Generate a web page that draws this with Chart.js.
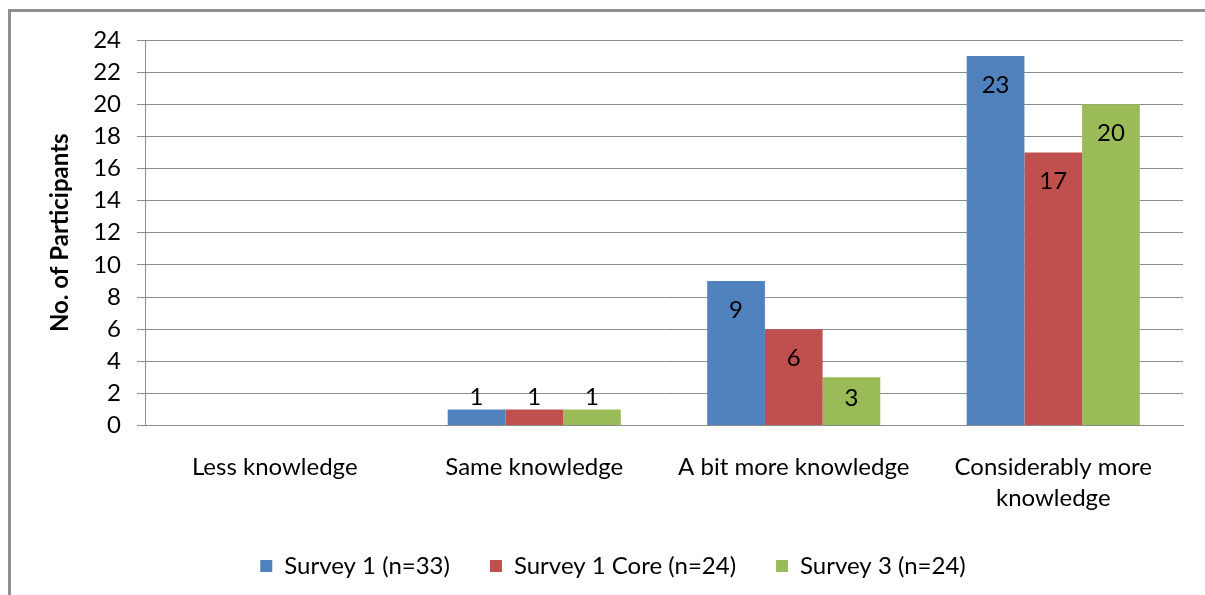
<!DOCTYPE html>
<html>
<head>
<meta charset="utf-8">
<script src="https://cdn.jsdelivr.net/npm/chart.js@4.4.0/dist/chart.umd.min.js"></script>
<style>
body { margin: 0; background: #fff; }
#wrap { position: relative; width: 1205px; height: 595px; overflow: hidden; }
#frame { position: absolute; left: 8px; top: 9px; width: 1300px; height: 700px;
         border-left: 3px solid #8e8e8e; border-top: 3px solid #8e8e8e; }
canvas { position: absolute; left: 0; top: 0; }
</style>
</head>
<body>
<div id="wrap">
  <div id="frame"></div>
  <canvas id="chart" width="1205" height="595"></canvas>
</div>
<script>
// data
var categories = ['Less knowledge', 'Same knowledge', 'A bit more knowledge', ['Considerably more', 'knowledge']];
var seriesNames = ['Survey 1 (n=33)', 'Survey 1 Core (n=24)', 'Survey 3 (n=24)'];
var survey1 = [0, 1, 9, 23];
var survey1Core = [0, 1, 6, 17];
var survey3 = [0, 1, 3, 20];
var yMin = 0;
var yMax = 24;
var yStep = 2;

var FONT = 'Lato';
var FSIZE = 24;
var gridColor = '#8c8c8c';

// value labels on the bars, like excel's "inside end"
var barLabels = {
  id: 'barLabels',
  afterDatasetsDraw: function (chart) {
    var ctx = chart.ctx;
    ctx.save();
    ctx.font = FSIZE + 'px ' + FONT;
    ctx.fillStyle = '#000';
    ctx.textAlign = 'center';
    ctx.textBaseline = 'middle';
    chart.data.datasets.forEach(function (ds, i) {
      chart.getDatasetMeta(i).data.forEach(function (bar, j) {
        var v = ds.data[j];
        if (!v) return;
        var h = bar.base - bar.y;
        var y;
        if (h < 30) {
          y = bar.y - 12;
        } else {
          y = bar.y + Math.min(29, h * 0.43);
        }
        ctx.fillText(String(v), bar.x, y);
      });
    });
    ctx.restore();
  }
};

var ctx = document.getElementById('chart');
var chart = new Chart(ctx, {
  type: 'bar',
  data: {
    labels: categories,
    datasets: [
      {label: seriesNames[0], data: survey1, backgroundColor: '#4f81bd', borderWidth: 0},
      {label: seriesNames[1], data: survey1Core, backgroundColor: '#c0504d', borderWidth: 0},
      {label: seriesNames[2], data: survey3, backgroundColor: '#9bbb59', borderWidth: 0}
    ]
  },
  options: {
    responsive: false,
    animation: false,
    datasets: {bar: {categoryPercentage: 0.667, barPercentage: 1.0}},
    layout: {padding: {left: 43, right: 22, top: 40, bottom: 7}},
    plugins: {
      tooltip: {enabled: false},
      legend: {
        position: 'bottom',
        labels: {
          boxWidth: 12, boxHeight: 12, padding: 40,
          color: '#000',
          font: {family: FONT, size: FSIZE}
        }
      }
    },
    scales: {
      x: {
        grid: {display: false},
        border: {display: true, color: gridColor},
        ticks: {color: '#000', padding: 18, maxRotation: 0, font: {family: FONT, size: FSIZE, lineHeight: 1.3}},
        afterFit: function (scale) { scale.height = 88.5; }
      },
      y: {
        min: yMin, max: yMax,
        ticks: {stepSize: yStep, color: '#000', padding: 16, font: {family: FONT, size: FSIZE}},
        grid: {color: gridColor, tickLength: 8, drawTicks: true},
        border: {display: true, color: gridColor},
        title: {
          display: true, text: 'No. of Participants', color: '#000',
          padding: {top: 3, bottom: 0},
          font: {family: FONT, size: FSIZE, weight: 'bold'}
        },
        afterFit: function (scale) { scale.width = 102; }
      }
    }
  },
  plugins: [barLabels]
});
</script>
</body>
</html>
